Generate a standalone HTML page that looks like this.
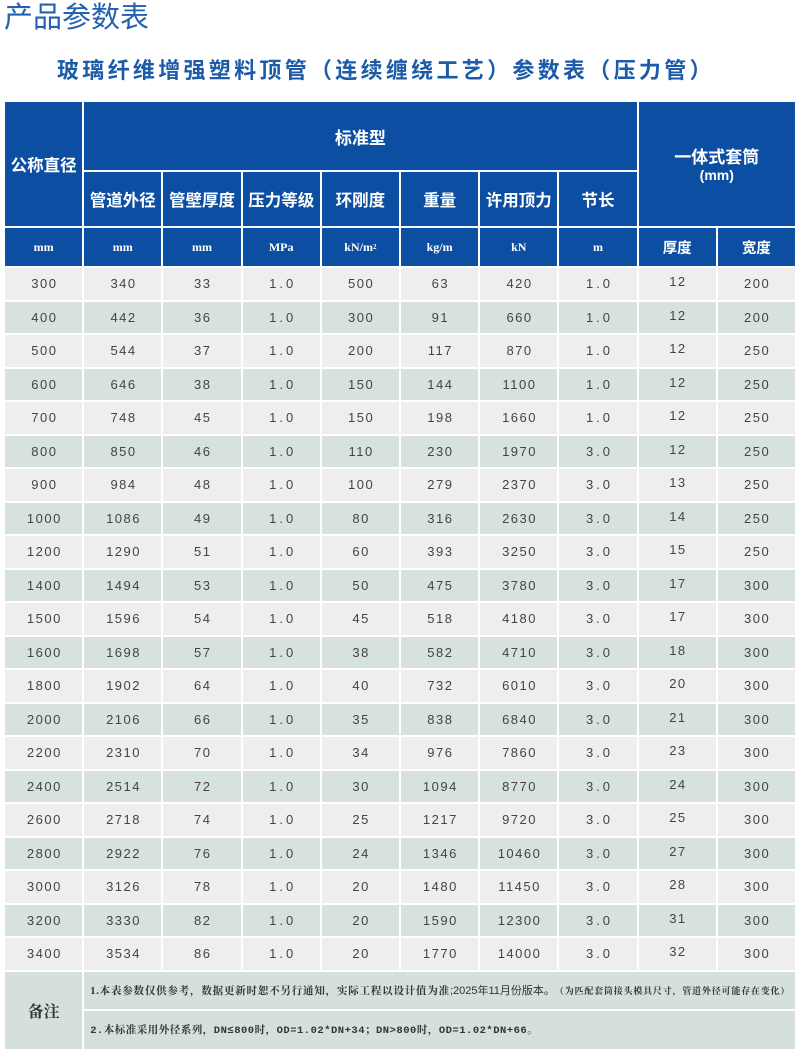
<!DOCTYPE html>
<html><head><meta charset="utf-8">
<style>
*{margin:0;padding:0;box-sizing:border-box}
html,body{width:800px;height:1060px;background:#fff;overflow:hidden}
body{position:relative;font-family:"Liberation Sans","Noto Sans CJK SC",sans-serif}
.t1{position:absolute;left:4px;top:4px;font-size:29px;line-height:29px;color:#2462b0;font-family:"Liberation Sans","Noto Sans CJK SC",sans-serif;font-weight:400;white-space:nowrap}
.t2{position:absolute;left:57px;top:60px;font-size:22px;line-height:22px;color:#1c5ba8;font-weight:700;letter-spacing:3.3px;white-space:nowrap;font-family:"Liberation Sans","Noto Sans CJK SC",sans-serif}
.g{position:absolute;left:5px;top:102px;width:790px;display:grid;grid-template-columns:repeat(10,1fr);grid-template-rows:68px 54px 38px repeat(21,31.5px) 37px 38px;gap:2px;background:#fff}
.g>div{display:flex;align-items:center;justify-content:center;white-space:nowrap}
.h{background:#0c4ea2;color:#fff;font-weight:700;font-size:16.5px;font-family:"Liberation Sans","Noto Sans CJK SC",sans-serif}
.u{background:#0c4ea2;color:#fff;font-weight:700;font-size:12px;font-family:"Liberation Serif","Noto Serif CJK SC",serif}
.uc{background:#0c4ea2;color:#fff;font-weight:700;font-size:14.5px;font-family:"Liberation Sans","Noto Sans CJK SC",sans-serif}
.a{background:#eeeeee}
.b{background:#d7e1dd}
.d{font-size:13px;color:#444;letter-spacing:1.5px;text-indent:1.5px}
.dec{letter-spacing:3px;text-indent:3px}
.up{position:relative;top:-2px}
.nb{background:#d5e0db;color:#333}
.n{justify-content:flex-start !important;padding-left:6px;color:#333;font-weight:700}
sup{font-size:7px;vertical-align:5px}
</style></head><body>
<div class="t1">产品参数表</div>
<div class="t2">玻璃纤维增强塑料顶管（连续缠绕工艺）参数表（压力管）</div>
<div class="g" id="g">
<div class="h" style="grid-column:1;grid-row:1/3">公称直径</div>
<div class="h" style="grid-column:2/9;grid-row:1;font-size:17px">标准型</div>
<div class="h" style="grid-column:9/11;grid-row:1/3;flex-direction:column;font-size:17px;line-height:19px;padding-top:2px"><span>一体式套筒</span><span style="font-size:14px;line-height:16px">(mm)</span></div>
<div class="h">管道外径</div><div class="h">管壁厚度</div><div class="h">压力等级</div><div class="h">环刚度</div><div class="h">重量</div><div class="h">许用顶力</div><div class="h">节长</div>
<div class="u">mm</div><div class="u">mm</div><div class="u">mm</div><div class="u">MPa</div><div class="u">kN/m<sup>2</sup></div><div class="u">kg/m</div><div class="u">kN</div><div class="u">m</div><div class="uc">厚度</div><div class="uc">宽度</div>

<div class="a d">300</div><div class="a d">340</div><div class="a d">33</div><div class="a d dec">1.0</div><div class="a d">500</div><div class="a d">63</div><div class="a d">420</div><div class="a d dec">1.0</div><div class="a d"><span class="up">12</span></div><div class="a d">200</div>
<div class="b d">400</div><div class="b d">442</div><div class="b d">36</div><div class="b d dec">1.0</div><div class="b d">300</div><div class="b d">91</div><div class="b d">660</div><div class="b d dec">1.0</div><div class="b d"><span class="up">12</span></div><div class="b d">200</div>
<div class="a d">500</div><div class="a d">544</div><div class="a d">37</div><div class="a d dec">1.0</div><div class="a d">200</div><div class="a d">117</div><div class="a d">870</div><div class="a d dec">1.0</div><div class="a d"><span class="up">12</span></div><div class="a d">250</div>
<div class="b d">600</div><div class="b d">646</div><div class="b d">38</div><div class="b d dec">1.0</div><div class="b d">150</div><div class="b d">144</div><div class="b d">1100</div><div class="b d dec">1.0</div><div class="b d"><span class="up">12</span></div><div class="b d">250</div>
<div class="a d">700</div><div class="a d">748</div><div class="a d">45</div><div class="a d dec">1.0</div><div class="a d">150</div><div class="a d">198</div><div class="a d">1660</div><div class="a d dec">1.0</div><div class="a d"><span class="up">12</span></div><div class="a d">250</div>
<div class="b d">800</div><div class="b d">850</div><div class="b d">46</div><div class="b d dec">1.0</div><div class="b d">110</div><div class="b d">230</div><div class="b d">1970</div><div class="b d dec">3.0</div><div class="b d"><span class="up">12</span></div><div class="b d">250</div>
<div class="a d">900</div><div class="a d">984</div><div class="a d">48</div><div class="a d dec">1.0</div><div class="a d">100</div><div class="a d">279</div><div class="a d">2370</div><div class="a d dec">3.0</div><div class="a d"><span class="up">13</span></div><div class="a d">250</div>
<div class="b d">1000</div><div class="b d">1086</div><div class="b d">49</div><div class="b d dec">1.0</div><div class="b d">80</div><div class="b d">316</div><div class="b d">2630</div><div class="b d dec">3.0</div><div class="b d"><span class="up">14</span></div><div class="b d">250</div>
<div class="a d">1200</div><div class="a d">1290</div><div class="a d">51</div><div class="a d dec">1.0</div><div class="a d">60</div><div class="a d">393</div><div class="a d">3250</div><div class="a d dec">3.0</div><div class="a d"><span class="up">15</span></div><div class="a d">250</div>
<div class="b d">1400</div><div class="b d">1494</div><div class="b d">53</div><div class="b d dec">1.0</div><div class="b d">50</div><div class="b d">475</div><div class="b d">3780</div><div class="b d dec">3.0</div><div class="b d"><span class="up">17</span></div><div class="b d">300</div>
<div class="a d">1500</div><div class="a d">1596</div><div class="a d">54</div><div class="a d dec">1.0</div><div class="a d">45</div><div class="a d">518</div><div class="a d">4180</div><div class="a d dec">3.0</div><div class="a d"><span class="up">17</span></div><div class="a d">300</div>
<div class="b d">1600</div><div class="b d">1698</div><div class="b d">57</div><div class="b d dec">1.0</div><div class="b d">38</div><div class="b d">582</div><div class="b d">4710</div><div class="b d dec">3.0</div><div class="b d"><span class="up">18</span></div><div class="b d">300</div>
<div class="a d">1800</div><div class="a d">1902</div><div class="a d">64</div><div class="a d dec">1.0</div><div class="a d">40</div><div class="a d">732</div><div class="a d">6010</div><div class="a d dec">3.0</div><div class="a d"><span class="up">20</span></div><div class="a d">300</div>
<div class="b d">2000</div><div class="b d">2106</div><div class="b d">66</div><div class="b d dec">1.0</div><div class="b d">35</div><div class="b d">838</div><div class="b d">6840</div><div class="b d dec">3.0</div><div class="b d"><span class="up">21</span></div><div class="b d">300</div>
<div class="a d">2200</div><div class="a d">2310</div><div class="a d">70</div><div class="a d dec">1.0</div><div class="a d">34</div><div class="a d">976</div><div class="a d">7860</div><div class="a d dec">3.0</div><div class="a d"><span class="up">23</span></div><div class="a d">300</div>
<div class="b d">2400</div><div class="b d">2514</div><div class="b d">72</div><div class="b d dec">1.0</div><div class="b d">30</div><div class="b d">1094</div><div class="b d">8770</div><div class="b d dec">3.0</div><div class="b d"><span class="up">24</span></div><div class="b d">300</div>
<div class="a d">2600</div><div class="a d">2718</div><div class="a d">74</div><div class="a d dec">1.0</div><div class="a d">25</div><div class="a d">1217</div><div class="a d">9720</div><div class="a d dec">3.0</div><div class="a d"><span class="up">25</span></div><div class="a d">300</div>
<div class="b d">2800</div><div class="b d">2922</div><div class="b d">76</div><div class="b d dec">1.0</div><div class="b d">24</div><div class="b d">1346</div><div class="b d">10460</div><div class="b d dec">3.0</div><div class="b d"><span class="up">27</span></div><div class="b d">300</div>
<div class="a d">3000</div><div class="a d">3126</div><div class="a d">78</div><div class="a d dec">1.0</div><div class="a d">20</div><div class="a d">1480</div><div class="a d">11450</div><div class="a d dec">3.0</div><div class="a d"><span class="up">28</span></div><div class="a d">300</div>
<div class="b d">3200</div><div class="b d">3330</div><div class="b d">82</div><div class="b d dec">1.0</div><div class="b d">20</div><div class="b d">1590</div><div class="b d">12300</div><div class="b d dec">3.0</div><div class="b d"><span class="up">31</span></div><div class="b d">300</div>
<div class="a d">3400</div><div class="a d">3534</div><div class="a d">86</div><div class="a d dec">1.0</div><div class="a d">20</div><div class="a d">1770</div><div class="a d">14000</div><div class="a d dec">3.0</div><div class="a d"><span class="up">32</span></div><div class="a d">300</div>

<div class="nb" style="grid-column:1;grid-row:25/27;font-size:16px;font-weight:700;font-family:'Liberation Serif','Noto Serif CJK SC',serif">备注</div>
<div class="nb n" style="grid-column:2/11;grid-row:25;font-size:10.5px;letter-spacing:0.8px;font-family:'Liberation Serif','Noto Serif CJK SC',serif">1.本表参数仅供参考，数据更新时恕不另行通知，实际工程以设计值为准<span style="font-family:'Liberation Sans','Noto Sans CJK SC',sans-serif;font-weight:400;letter-spacing:0;font-size:11px">;2025年11月份版本。</span><span style="font-size:9px;letter-spacing:0.8px">（为匹配套筒接头模具尺寸，管道外径可能存在变化）</span></div>
<div class="nb n" style="grid-column:2/11;grid-row:26;font-size:10.5px;letter-spacing:0.5px;font-family:'Liberation Mono','Noto Serif CJK SC',monospace">2.本标准采用外径系列，DN≤800时，OD=1.02*DN+34；DN&gt;800时，OD=1.02*DN+66。</div>
</div>
</body></html>
